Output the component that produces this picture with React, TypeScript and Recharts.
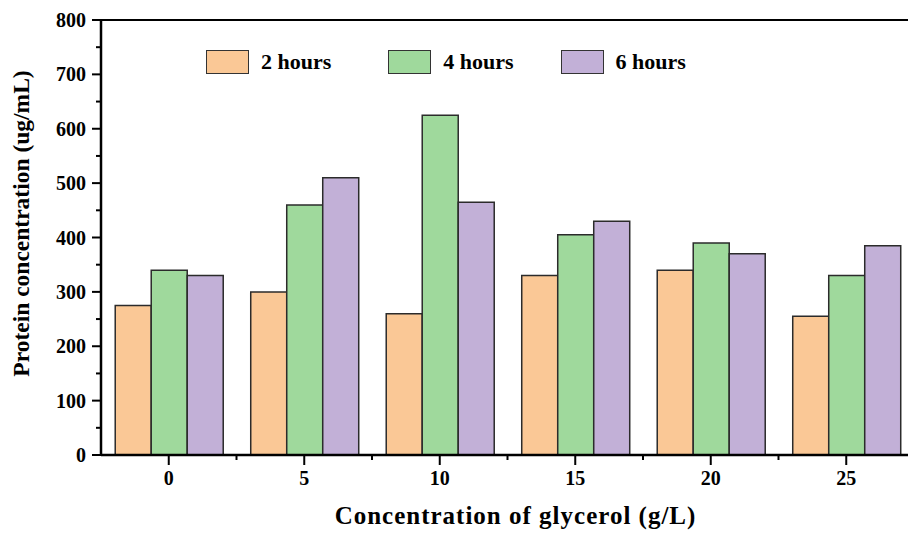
import React from "react";
import {
  BarChart,
  Bar,
  XAxis,
  YAxis,
  ReferenceLine,
} from "recharts";

// glycerol concentration (g/L)
const categories = ["0", "5", "10", "15", "20", "25"];
// protein concentration (ug/mL) after each incubation time
const hours2 = [275, 300, 260, 330, 340, 255];
const hours4 = [340, 460, 625, 405, 390, 330];
const hours6 = [330, 510, 465, 430, 370, 385];
const yTicks = [0, 50, 100, 150, 200, 250, 300, 350, 400, 450, 500, 550, 600, 650, 700, 750, 800];

const seriesNames = ["2 hours", "4 hours", "6 hours"];
const colors = ["#FAC896", "#9FD99C", "#C2B0D7"];

const data = categories.map((c, i) => ({
  glycerol: c,
  h2: hours2[i],
  h4: hours4[i],
  h6: hours6[i],
}));

const FONT = "Times New Roman, Times, Liberation Serif, Tinos, serif";

// y tick: label only on hundreds, short tick on the fifties
const YTick = (props: any) => {
  const { x, y, payload } = props;
  const axisX = x + 12;
  const major = payload.value % 100 === 0;
  return (
    <g>
      <line x1={axisX - (major ? 9 : 5)} x2={axisX} y1={y} y2={y} stroke="#000" strokeWidth={2} />
      {major && (
        <text x={x - 3} y={y} textAnchor="end" dominantBaseline="central" fontFamily={FONT} fontWeight="bold" fontSize={20} fill="#000">
          {payload.value}
        </text>
      )}
    </g>
  );
};

// x tick: major tick at the category, minor tick halfway to the next one
const XTick = (props: any) => {
  const { x, y, payload, width } = props;
  const axisY = y - 12;
  const bw = (width || 813) / categories.length;
  return (
    <g>
      <line x1={x} x2={x} y1={axisY} y2={axisY + 10} stroke="#000" strokeWidth={2} />
      <line x1={x + bw / 2} x2={x + bw / 2} y1={axisY} y2={axisY + 5} stroke="#000" strokeWidth={2} />
      <text x={x} y={y + 18} textAnchor="middle" fontFamily={FONT} fontWeight="bold" fontSize={20} fill="#000">
        {payload.value}
      </text>
    </g>
  );
};

const legendGaps = [57, 47, 0];

const ChartLegend = () => (
  <div
    style={{
      position: "absolute",
      top: 49,
      left: 206,
      display: "flex",
      alignItems: "center",
      fontFamily: FONT,
      fontWeight: "bold",
      fontSize: 22,
      color: "#000",
      whiteSpace: "nowrap",
    }}
  >
    {seriesNames.map((n, i) => (
      <div key={n} style={{ display: "flex", alignItems: "center", marginRight: legendGaps[i] }}>
        <div style={{ width: 41, height: 22, background: colors[i], border: "1.5px solid #333", marginRight: 12 }} />
        <span>{n}</span>
      </div>
    ))}
  </div>
);

export default function App() {
  return (
    <div style={{ position: "absolute", left: 0, top: 0, width: 908, height: 533, overflow: "hidden", background: "#fff" }}>
      <BarChart
        width={920}
        height={533}
        data={data}
        margin={{ top: 20, right: 6, bottom: 0, left: 0 }}
        barGap={0}
        barCategoryGap="10.5%"
      >
        <XAxis
          dataKey="glycerol"
          height={78}
          axisLine={{ stroke: "#000", strokeWidth: 2.5 }}
          tickLine={false}
          tickSize={9}
          tickMargin={3}
          tick={<XTick />}
          interval={0}
          label={({ viewBox }: any) => (
            <text
              x={viewBox.x + viewBox.width / 2 + 8}
              y={viewBox.y + 69}
              textAnchor="middle"
              fontFamily={FONT}
              fontWeight="bold"
              fontSize={25}
              letterSpacing={1}
              fill="#000"
            >
              Concentration of glycerol (g/L)
            </text>
          )}
        />
        <YAxis
          width={101}
          domain={[0, 800]}
          ticks={yTicks}
          interval={0}
          axisLine={{ stroke: "#000", strokeWidth: 2.5 }}
          tickLine={false}
          tickSize={9}
          tickMargin={3}
          tick={<YTick />}
          label={({ viewBox }: any) => {
            const cx = viewBox.x + 21;
            const cy = viewBox.y + viewBox.height / 2 - 14;
            return (
              <text
                x={cx}
                y={cy}
                transform={`rotate(-90 ${cx} ${cy})`}
                textAnchor="middle"
                dominantBaseline="central"
                fontFamily={FONT}
                fontWeight="bold"
                fontSize={23.5}
                fill="#000"
              >
                Protein concentration (ug/mL)
              </text>
            );
          }}
        />
        <ReferenceLine y={800} stroke="#000" strokeWidth={2} />
        <Bar dataKey="h2" name={seriesNames[0]} fill={colors[0]} stroke="#2b2b2b" strokeWidth={1.5} isAnimationActive={false} />
        <Bar dataKey="h4" name={seriesNames[1]} fill={colors[1]} stroke="#2b2b2b" strokeWidth={1.5} isAnimationActive={false} />
        <Bar dataKey="h6" name={seriesNames[2]} fill={colors[2]} stroke="#2b2b2b" strokeWidth={1.5} isAnimationActive={false} />
      </BarChart>
      <ChartLegend />
    </div>
  );
}
